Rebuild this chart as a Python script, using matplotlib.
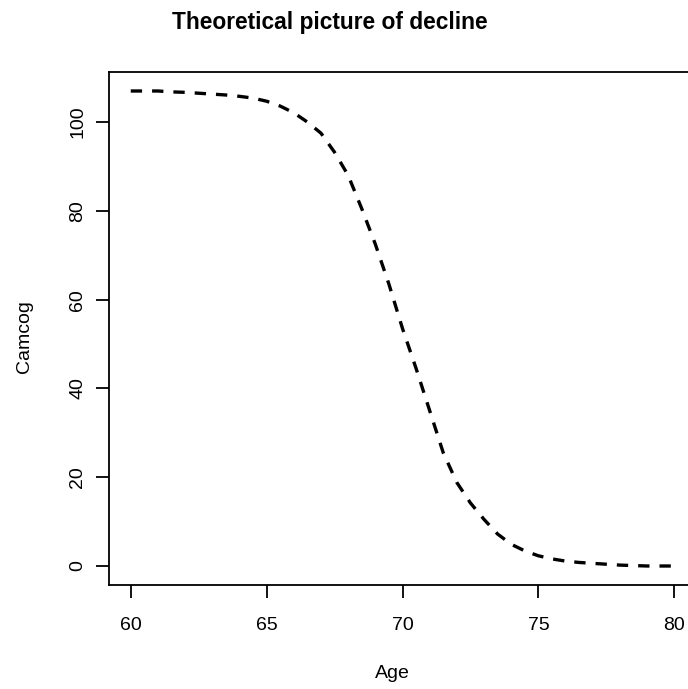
import matplotlib
matplotlib.use("Agg")
from matplotlib import pyplot as plt

plt.rcParams['font.family'] = ['Liberation Sans', 'DejaVu Sans']

# decline curve, camcog score by age
age = [60, 60.5, 61, 61.5, 62, 62.5, 63, 63.5, 64, 64.5, 65, 65.5, 66, 66.5,
       67, 67.5, 68, 68.5, 69, 69.5, 70, 70.5, 71, 71.5, 72, 72.5, 73, 73.5,
       74, 74.5, 75, 75.5, 76, 76.5, 77, 77.5, 78, 78.5, 79, 79.5, 80]
camcog = [107.0, 107.0, 107.0, 106.8, 106.7, 106.5, 106.3, 106.1, 105.8, 105.4,
          104.7, 103.6, 102.1, 100.0, 97.5, 93.2, 88.0, 80.5, 72.5, 63.5,
          53.5, 44.5, 35.0, 25.5, 18.8, 14.2, 10.5, 7.2, 4.9, 3.4,
          2.3, 1.6, 1.1, 0.8, 0.6, 0.4, 0.2, 0.1, 0.0, 0.0, 0.0]
xticks = [60, 65, 70, 75, 80]
yticks = [0, 20, 40, 60, 80, 100]

fig = plt.figure(figsize=(6.88, 6.89), dpi=100)
ax = fig.add_axes([109 / 688, 104 / 689, 587 / 688, 513 / 689])

line, = ax.plot(age, camcog, color='black', linewidth=2.4)
line.set_dashes([3.4, 3.0])
line.set_dash_capstyle('butt')

# R-style 4% padding on both axes
xr = max(age) - min(age)
yr = max(camcog) - min(camcog)
ax.set_xlim(min(age) - 0.04 * xr, max(age) + 0.04 * xr)
ax.set_ylim(min(camcog) - 0.04 * yr, max(camcog) + 0.04 * yr)

ax.set_xticks(xticks)
ax.set_yticks(yticks)
ax.tick_params(axis='both', length=9.4, width=1.3, labelsize=14, direction='out')
ax.tick_params(axis='x', pad=14)
ax.tick_params(axis='y', pad=7)
for lab in ax.get_yticklabels():
    lab.set_rotation(90)
    lab.set_va('center')
for sp in ax.spines.values():
    sp.set_linewidth(1.3)

fig.text(392 / 688, 1 - 674 / 689, 'Age', ha='center', va='center', fontsize=14)
fig.text(25 / 688, 1 - 337 / 689, 'Camcog', ha='center', va='center',
         rotation=90, fontsize=14)
fig.text(330 / 688, 1 - 22 / 689, 'Theoretical picture of decline',
         ha='center', va='center', fontsize=16.4, fontweight='bold')

plt.savefig('out.png', dpi=100)
